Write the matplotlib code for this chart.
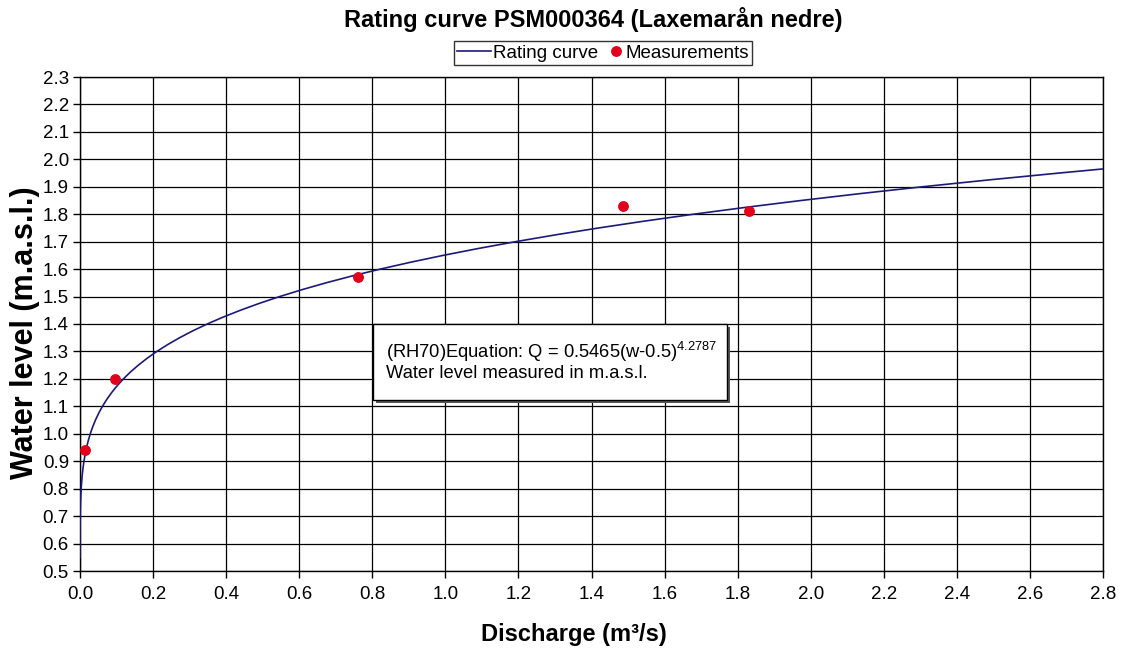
import matplotlib
matplotlib.use("Agg")
import matplotlib.pyplot as plt
from matplotlib.patches import Rectangle
from matplotlib.legend_handler import HandlerLine2D

plt.rcParams['font.family'] = ['Liberation Sans', 'DejaVu Sans']
plt.rcParams['mathtext.fontset'] = 'custom'
plt.rcParams['mathtext.rm'] = 'Liberation Sans'

# Rating curve: water level (m.a.s.l.) vs discharge (m3/s)
curve_level = [0.55, 0.60, 0.65, 0.70, 0.75, 0.80, 0.85, 0.875, 0.90, 0.925,
               0.95, 0.975, 1.00, 1.025, 1.05, 1.075, 1.10, 1.125, 1.15, 1.175,
               1.20, 1.225, 1.25, 1.275, 1.30, 1.325, 1.35, 1.375, 1.40, 1.425,
               1.45, 1.475, 1.50, 1.525, 1.55, 1.575, 1.60, 1.625, 1.65, 1.675,
               1.70, 1.725, 1.75, 1.775, 1.80, 1.825, 1.85, 1.875, 1.90, 1.925,
               1.95, 1.966]
curve_discharge = [0.0000015, 0.000029, 0.000163, 0.00056, 0.00145, 0.00317,
                   0.00612, 0.00823, 0.01084, 0.01405, 0.01794, 0.02260,
                   0.02815, 0.03469, 0.04233, 0.05120, 0.0614, 0.07316,
                   0.08652, 0.10167, 0.1188, 0.13806, 0.15959, 0.18364,
                   0.2103, 0.23995, 0.27264, 0.30864, 0.3482, 0.39150,
                   0.43881, 0.49039, 0.5465, 0.60740, 0.67337, 0.74469,
                   0.8217, 0.90461, 0.99382, 1.08963, 1.1923, 1.30230,
                   1.4199, 1.54540, 1.6792, 1.82187, 1.9735, 2.13476,
                   2.3058, 2.48737, 2.6796, 2.808]

# Measurements
meas_discharge = [0.015, 0.095, 0.76, 1.485, 1.83]
meas_level = [0.94, 1.20, 1.57, 1.83, 1.81]

x_ticks = [0.0, 0.2, 0.4, 0.6, 0.8, 1.0, 1.2, 1.4, 1.6, 1.8, 2.0, 2.2, 2.4, 2.6, 2.8]
y_ticks = [0.5, 0.6, 0.7, 0.8, 0.9, 1.0, 1.1, 1.2, 1.3, 1.4, 1.5, 1.6, 1.7, 1.8,
           1.9, 2.0, 2.1, 2.2, 2.3]

title = "Rating curve PSM000364 (Laxemarån nedre)"
x_label = "Discharge (m³/s)"
y_label = "Water level (m.a.s.l.)"
eq_text = "(RH70)Equation: Q = 0.5465(w-0.5)$^{\\mathregular{4.2787}}$\nWater level measured in m.a.s.l."

W, H = 1124, 653
fig = plt.figure(figsize=(W / 100, H / 100), dpi=100)
L, R, T, B = 80, 1103, 77, 571
ax = fig.add_axes([L / W, 1 - B / H, (R - L) / W, (B - T) / H])

ax.plot(curve_discharge, curve_level, color='#1c1a78', lw=1.2, label='Rating curve', zorder=3)
meas_line, = ax.plot(meas_discharge, meas_level, 'o', color='#e3001b', ms=6.8,
                     mec='#e3001b', label='Measurements', zorder=4)

ax.set_xlim(0, 2.8)
ax.set_ylim(0.5, 2.3)
ax.set_xticks(x_ticks)
ax.set_xticklabels([f"{v:.1f}" for v in x_ticks])
ax.set_yticks(y_ticks)
ax.set_yticklabels([f"{v:.1f}" for v in y_ticks])
ax.tick_params(direction='out', length=5, width=1, labelsize=13.5, colors='black', pad=3)
ax.tick_params(axis='x', pad=6)
ax.grid(True, color='black', lw=0.9)
for s in ax.spines.values():
    s.set_color('black')
    s.set_linewidth(1)

fig.text(573.5 / W, 1 - 634 / H, x_label, ha='center', va='center',
         fontsize=17, fontweight='bold')
fig.text(25 / W, 1 - 333 / H, y_label, ha='center', va='center', rotation=90,
         fontsize=22, fontweight='bold')
fig.text(593 / W, 1 - 20 / H, title, ha='center', va='center',
         fontsize=17, fontweight='bold')


class RightMarkerHandler(HandlerLine2D):
    def get_xdata(self, legend, xdescent, ydescent, width, height, fontsize):
        m = -xdescent + width * 0.77
        return [m - 1, m + 1], [m]


handles, labels = ax.get_legend_handles_labels()
leg = ax.legend(handles, labels, loc='center',
                bbox_to_anchor=((603 - L) / (R - L), (B - 53) / (B - T)),
                ncol=2, frameon=True, fancybox=False, fontsize=13.5,
                handlelength=1.8, handletextpad=0.1, columnspacing=-0.45,
                borderpad=0.2, borderaxespad=0,
                handler_map={meas_line: RightMarkerHandler(numpoints=1)})
leg.get_frame().set_edgecolor('black')
leg.get_frame().set_linewidth(1)

# Equation box with small shadow
bx0, bx1, by0, by1 = 373, 727, 324, 400
def to_data(px, py):
    return ((px - L) / (R - L) * 2.8, 0.5 + (B - py) / (B - T) * 1.8)
x0, y0 = to_data(bx0, by1)
x1, y1 = to_data(bx1, by0)
sx, sy = to_data(bx0 + 3, by1 + 3)
ax.add_patch(Rectangle((sx, sy), x1 - x0, y1 - y0, facecolor='#555555',
                       edgecolor='none', zorder=5))
ax.add_patch(Rectangle((x0, y0), x1 - x0, y1 - y0, facecolor='white',
                       edgecolor='black', lw=1, zorder=6))
tx, ty = to_data(bx0 + 13, (by0 + by1) / 2 - 1)
ax.text(tx, ty, eq_text, fontsize=13.2, va='center', ha='left', zorder=7,
        linespacing=1.1)

fig.savefig("out.png", dpi=100)
